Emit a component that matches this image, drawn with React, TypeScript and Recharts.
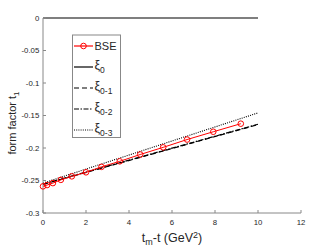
import React from 'react';
import { ComposedChart, Line, XAxis, YAxis } from 'recharts';

const bseX = [0, 0.19, 0.46, 0.83, 1.34, 2.0, 2.72, 3.57, 4.52, 5.59, 6.7, 7.92, 9.2];
const bseY = [-0.259, -0.257, -0.254, -0.249, -0.2436, -0.2374, -0.229, -0.2205, -0.21, -0.199, -0.187, -0.175, -0.1626];
const fitX = [0, 10];
const xi0 = [0, 0];
const xi01 = [-0.256, -0.164];
const xi02 = [-0.2555, -0.1635];
const xi03 = [-0.254, -0.146];
const xTicks = [0, 2, 4, 6, 8, 10, 12];
const yTicks = [-0.3, -0.25, -0.2, -0.15, -0.1, -0.05, 0];

const bseData = bseX.map((x, i) => ({ x, y: bseY[i] }));
const mk = (ys: number[]) => fitX.map((x, i) => ({ x, y: ys[i] }));

const AX = '#888888';
const TXT = '#262626';
const FONT = '"Liberation Sans", Arial, Helvetica, sans-serif';
const fmt = (v: number) => String(Number(v.toFixed(2)));

const BottomTick = (p: any) => (
  <g>
    <line x1={p.x} y1={p.y} x2={p.x} y2={p.y - 3} stroke={AX} strokeWidth={1} />
    <text x={p.x} y={p.y + 12} textAnchor="middle" fontSize={7.8} fill={TXT} fontFamily={FONT}>
      {fmt(p.payload.value)}
    </text>
  </g>
);
const TopTick = (p: any) => (
  <line x1={p.x} y1={p.y} x2={p.x} y2={p.y + 3} stroke={AX} strokeWidth={1} />
);
const LeftTick = (p: any) => (
  <g>
    <line x1={p.x} y1={p.y} x2={p.x + 3} y2={p.y} stroke={AX} strokeWidth={1} />
    <text x={p.x - 3.7} y={p.y + 2.8} textAnchor="end" fontSize={7.8} fill={TXT} fontFamily={FONT}>
      {fmt(p.payload.value)}
    </text>
  </g>
);
const RightTick = (p: any) => (
  <line x1={p.x} y1={p.y} x2={p.x - 3} y2={p.y} stroke={AX} strokeWidth={1} />
);

const legendItems = [
  { key: 'BSE', sub: '', dash: undefined as string | undefined, color: '#ff0000', marker: true },
  { key: 'ξ', sub: '0', dash: undefined, color: '#000', marker: false },
  { key: 'ξ', sub: '0-1', dash: '5 3', color: '#000', marker: false },
  { key: 'ξ', sub: '0-2', dash: '5 1.5 1.5 1.5', color: '#000', marker: false },
  { key: 'ξ', sub: '0-3', dash: '1 1.2', color: '#000', marker: false },
];

export default function App() {
  return (
    <div style={{ position: 'absolute', left: 0, top: 0, width: 332, height: 249, background: '#fff' }}>
      <ComposedChart width={332} height={249} margin={{ top: 18, right: 31, left: 0, bottom: 0 }}>
        <XAxis
          xAxisId="b"
          type="number"
          dataKey="x"
          domain={[0, 12]}
          ticks={xTicks}
          height={36}
          tickSize={0}
          tickMargin={0}
          tickLine={false}
          axisLine={{ stroke: AX }}
          tick={BottomTick}
          interval={0}
        />
        <XAxis
          xAxisId="t"
          orientation="top"
          type="number"
          dataKey="x"
          domain={[0, 12]}
          ticks={xTicks}
          height={0}
          tickSize={0}
          tickMargin={0}
          tickLine={false}
          axisLine={{ stroke: AX }}
          tick={TopTick}
          interval={0}
        />
        <YAxis
          yAxisId="l"
          type="number"
          domain={[-0.3, 0]}
          ticks={yTicks}
          width={43}
          tickSize={0}
          tickMargin={0}
          tickLine={false}
          axisLine={{ stroke: AX }}
          tick={LeftTick}
          interval={0}
        />
        <YAxis
          yAxisId="r"
          orientation="right"
          type="number"
          domain={[-0.3, 0]}
          ticks={yTicks}
          width={0}
          tickSize={0}
          tickMargin={0}
          tickLine={false}
          axisLine={{ stroke: AX }}
          tick={RightTick}
          interval={0}
        />
        <Line xAxisId="b" yAxisId="l" data={mk(xi0)} dataKey="y" stroke="#000" strokeWidth={1.2} dot={false} isAnimationActive={false} />
        <Line xAxisId="b" yAxisId="l" data={mk(xi01)} dataKey="y" stroke="#000" strokeWidth={1.2} strokeDasharray="5 3" dot={false} isAnimationActive={false} />
        <Line xAxisId="b" yAxisId="l" data={mk(xi02)} dataKey="y" stroke="#000" strokeWidth={1.2} strokeDasharray="5 1.5 1.5 1.5" dot={false} isAnimationActive={false} />
        <Line xAxisId="b" yAxisId="l" data={mk(xi03)} dataKey="y" stroke="#000" strokeWidth={1.1} strokeDasharray="1 1.2" dot={false} isAnimationActive={false} />
        <Line
          xAxisId="b"
          yAxisId="l"
          data={bseData}
          dataKey="y"
          stroke="#ff0000"
          strokeWidth={1}
          dot={{ r: 2.8, stroke: '#ff0000', strokeWidth: 1, fill: 'none' }}
          isAnimationActive={false}
        />
      </ComposedChart>
      <svg width={332} height={249} style={{ position: 'absolute', left: 0, top: 0, pointerEvents: 'none' }}>
        <text x={172} y={242} textAnchor="middle" fontSize={12.5} fill={TXT} fontFamily={FONT}>
          t<tspan dy={3} fontSize={9}>m</tspan>
          <tspan dy={-3}>-t (GeV</tspan>
          <tspan dy={-4.5} fontSize={9}>2</tspan>
          <tspan dy={4.5}>)</tspan>
        </text>
        <text transform="translate(16,123) rotate(-90)" textAnchor="middle" fontSize={11} fill={TXT} fontFamily={FONT}>
          form factor t<tspan dy={2.5} fontSize={8}>1</tspan>
        </text>
        <rect x={72.5} y={35} width={48} height={102.5} fill="#fff" stroke={AX} strokeWidth={1} />
        {legendItems.map((it, i) => {
          const y = 46 + i * 21;
          return (
            <g key={i}>
              <line x1={74} y1={y} x2={93} y2={y} stroke={it.color} strokeWidth={1.2} strokeDasharray={it.dash} />
              {it.marker && <circle cx={83.5} cy={y} r={2.8} stroke="#ff0000" fill="none" strokeWidth={1} />}
              {it.sub === '' ? (
                <text x={94.5} y={y + 4} fontSize={11} fill={TXT} fontFamily={FONT}>{it.key}</text>
              ) : (
                <text x={94.5} y={y + 2} fontSize={12.5} fill={TXT} fontFamily={FONT}>
                  {it.key}
                  <tspan dy={3.5} fontSize={8.5}>{it.sub}</tspan>
                </text>
              )}
            </g>
          );
        })}
      </svg>
    </div>
  );
}
